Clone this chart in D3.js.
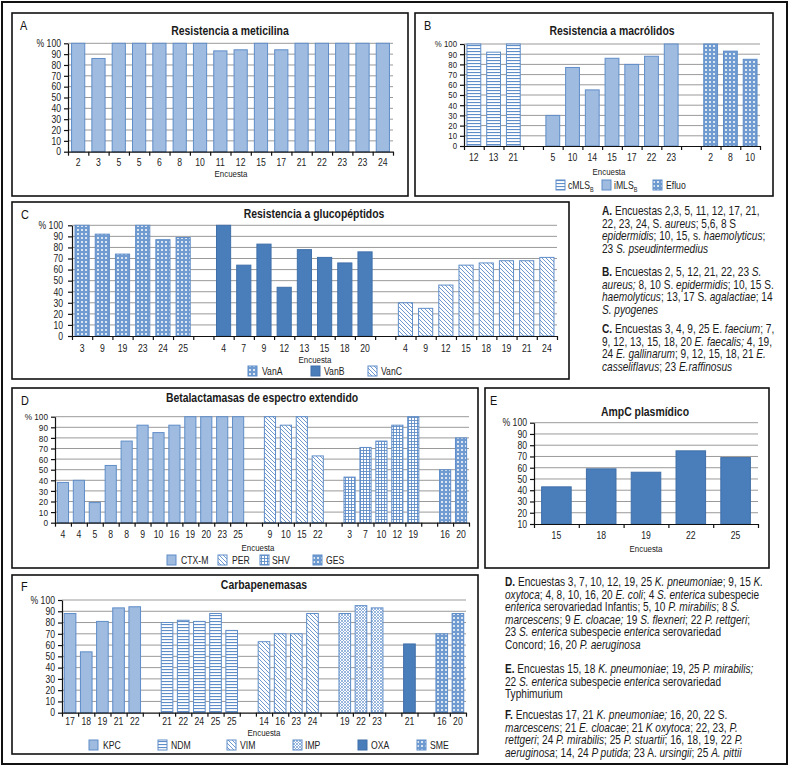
<!DOCTYPE html>
<html lang="es">
<head>
<meta charset="UTF-8">
<title>Resistencias</title>
<script src="https://cdn.jsdelivr.net/npm/d3@7"></script>
<style>
  body { margin: 0; background: #fff; }
  svg { display: block; }
  text { white-space: pre; }
</style>
</head>
<body>
<svg id="chart" width="794" height="768"></svg>
<script>
// ---- datos ----
const aCats = ["2","3","5","5","6","8","10","11","12","15","17","21","22","23","23","24"];
const aVals = [100,86,100,100,100,100,100,93,94,100,94,100,100,100,100,100];

const bCmlsCats = ["12","13","21"];
const bCmlsVals = [100,92,100];
const bImlsCats = ["5","10","14","15","17","22","23"];
const bImlsVals = [30,77,55,86,80,88,100];
const bEfluoCats = ["2","8","10"];
const bEfluoVals = [100,93,85];

const cVanACats = ["3","9","19","23","24","25"];
const cVanAVals = [100,92,74,100,87,89];
const cVanBCats = ["4","7","9","12","13","15","18","20"];
const cVanBVals = [100,64,83,44,78,71,66,76];
const cVanCCats = ["4","9","12","15","18","19","21","24"];
const cVanCVals = [30,25,46,64,66,68,68,71];

const dCtxCats = ["4","4","5","8","8","9","10","16","19","20","23","25"];
const dCtxVals = [38,40,19,54,77,92,85,92,100,100,100,100];
const dPerCats = ["9","10","15","22"];
const dPerVals = [100,92,100,63];
const dShvCats = ["3","7","10","12","19"];
const dShvVals = [43,71,77,92,100];
const dGesCats = ["16","20"];
const dGesVals = [50,80];

const eCats = ["15","18","19","22","25"];
const eVals = [43,59,56,75,69];

const fKpcCats = ["17","18","19","21","22"];
const fKpcVals = [88,54,81,93,94];
const fNdmCats = ["21","22","24","25","25"];
const fNdmVals = [80,82,81,88,73];
const fVimCats = ["14","16","23","24"];
const fVimVals = [63,70,70,88];
const fImpCats = ["19","22","23"];
const fImpVals = [88,95,93];
const fOxaCats = ["21"];
const fOxaVals = [61];
const fSmeCats = ["16","20"];
const fSmeVals = [70,88];

const notesTop = [
  ["<b>A.</b> Encuestas 2,3, 5, 11, 12, 17, 21,",
   "22, 23, 24, S. <i>aureus</i>; 5,6, 8 S",
   "<i>epidermidis</i>; 10, 15, s. <i>haemolyticus</i>;",
   "23 <i>S. pseudintermedius</i>"],
  ["<b>B.</b> Encuestas 2, 5, 12, 21, 22, 23 <i>S.</i>",
   "<i>aureus;</i> 8, 10 S. <i>epidermidis</i>; 10, 15 S.",
   "<i>haemolyticus</i>; 13, 17 S. <i>agalactiae</i>; 14",
   "<i>S. pyogenes</i>"],
  ["<b>C.</b> Encuestas 3, 4, 9, 25 E. <i>faecium</i>; 7,",
   "9, 12, 13, 15, 18, 20 <i>E. faecalis;</i> 4, 19,",
   "24 <i>E. gallinarum</i>; 9, 12, 15, 18, 21 <i>E.</i>",
   "<i>casseliflavus</i>; 23 <i>E.raffinosus</i>"]
];
const notesBottom = [
  ["<b>D.</b> Encuestas 3, 7, 10, 12, 19, 25 <i>K. pneumoniae</i>; 9, 15 <i>K.</i>",
   "<i>oxytoca</i>; 4, 8, 10, 16, 20 <i>E. coli</i>; 4 <i>S. enterica</i> subespecie",
   "<i>enterica</i> serovariedad Infantis; 5, 10 <i>P. mirabilis</i>; 8 <i>S.</i>",
   "<i>marcescens</i>; 9 <i>E. cloacae;</i> 19 <i>S. flexneri</i>; 22 <i>P. rettgeri</i>;",
   "23 <i>S. enterica</i> subespecie <i>enterica</i> serovariedad",
   "Concord; 16, 20 <i>P. aeruginosa</i>"],
  ["<b>E.</b> Encuestas 15, 18 <i>K. pneumoniae</i>; 19, 25 <i>P. mirabilis;</i>",
   "22 <i>S. enterica</i> subespecie <i>enterica</i> serovariedad",
   "Typhimurium"],
  ["<b>F.</b> Encuestas 17, 21 <i>K. pneumoniae;</i> 16, 20, 22 S.",
   "<i>marcescens</i>; 21 <i>E. cloacae</i>; 21 <i>K oxytoca</i>; 22, 23, <i>P.</i>",
   "<i>rettgeri</i>; 24 <i>P. mirabilis</i>; 25 <i>P. stuartii</i>; 16, 18, 19, 22 <i>P.</i>",
   "<i>aeruginosa</i>; 14, 24 <i>P putida</i>; 23 A. <i>ursingii</i>; 25 <i>A. pittii</i>"]
];

// ---- fuente estrecha si existe, si no se comprime en horizontal ----
function hasFont(name) {
  const c = document.createElement("canvas").getContext("2d");
  const s = "Encuestas abcdefghij 0123456789";
  c.font = "40px monospace";
  const w1 = c.measureText(s).width;
  c.font = `40px "${name}", monospace`;
  return c.measureText(s).width !== w1;
}
const narrow = hasFont("Liberation Sans Narrow");
const FONT = narrow ? '"Liberation Sans Narrow", sans-serif' : '"Liberation Sans", Arial, sans-serif';
const SX = narrow ? 1 : 0.84;

const svg = d3.select("#chart").style("font-family", FONT);

// colores
const LIGHT = "#9fbbe0", LIGHT_ST = "#5f8dc8";
const DARK = "#4a7ebb", DARK_ST = "#3f6fa9";
const LINE = "#5f8dc8";
const DOTBG = "#6f9bd1";

// ---- patrones ----
const defs = svg.append("defs");
function pattern(id, w, h, draw) {
  const p = defs.append("pattern").attr("id", id)
    .attr("patternUnits", "userSpaceOnUse").attr("width", w).attr("height", h);
  draw(p);
}
pattern("hstripe", 4, 3, p => {
  p.append("rect").attr("width", 4).attr("height", 3).attr("fill", "#fff");
  p.append("rect").attr("width", 4).attr("height", 1.1).attr("fill", LINE);
});
pattern("diag", 4, 4, p => {
  p.append("rect").attr("width", 4).attr("height", 4).attr("fill", "#fff");
  p.append("path").attr("d", "M-1,-1L5,5M-1,3L1,5M3,-1L5,1")
    .attr("stroke", LINE).attr("stroke-width", 0.9);
});
pattern("grid", 3, 3, p => {
  p.append("rect").attr("width", 3).attr("height", 3).attr("fill", "#fff");
  p.append("rect").attr("width", 3).attr("height", 0.9).attr("fill", LINE);
  p.append("rect").attr("width", 0.9).attr("height", 3).attr("fill", LINE);
});
pattern("dots", 4, 4, p => {
  p.append("rect").attr("width", 4).attr("height", 4).attr("fill", DOTBG);
  p.append("rect").attr("x", 1).attr("y", 1).attr("width", 2).attr("height", 2)
    .attr("fill", "#fff").attr("opacity", 0.75);
});
pattern("cross", 3, 3, p => {
  p.append("rect").attr("width", 3).attr("height", 3).attr("fill", "#fff");
  p.append("path").attr("d", "M0,0L3,3M3,0L0,3")
    .attr("stroke", "#7ea3d6").attr("stroke-width", 0.8);
});

const STYLE = {
  light: { fill: LIGHT, stroke: LIGHT_ST },
  dark: { fill: DARK, stroke: DARK_ST },
  hstripe: { fill: "url(#hstripe)", stroke: LINE },
  diag: { fill: "url(#diag)", stroke: LINE },
  grid: { fill: "url(#grid)", stroke: LINE },
  dots: { fill: "url(#dots)", stroke: LINE },
  cross: { fill: "url(#cross)", stroke: LINE }
};

// ---- marco exterior ----
svg.append("rect").attr("x", 2).attr("y", 2).attr("width", 785).attr("height", 762)
  .attr("fill", "none").attr("stroke", "#111").attr("stroke-width", 2);

function panel(cfg) {
  const g = svg.append("g");
  const [bx0, by0, bx1, by1] = cfg.box;
  const tickFs = cfg.tickFs || 10.3;
  g.append("rect").attr("x", bx0).attr("y", by0)
    .attr("width", bx1 - bx0).attr("height", by1 - by0)
    .attr("fill", "#fff").attr("stroke", "#111").attr("stroke-width", 1.6);

  g.append("text").attr("x", cfg.letter[0]).attr("y", cfg.letter[1])
    .attr("font-size", 13).attr("fill", "#111").text(cfg.name);
  g.append("text").attr("class", "title").attr("x", cfg.titleX).attr("y", cfg.titleY)
    .attr("text-anchor", "middle").attr("font-weight", "bold")
    .attr("font-size", 13.5).attr("fill", "#1a1a1a").text(cfg.title);

  // ranuras: series separadas por un hueco vacío
  const slots = [];
  cfg.series.forEach((s, si) => {
    if (si > 0) slots.push({ key: "gap" + si, label: "" });
    s.cats.forEach((c, i) => slots.push({ key: s.name + i, label: c, value: s.vals[i], style: s.style }));
  });
  const n = slots.length;
  const x = d3.scaleBand().domain(slots.map(d => d.key))
    .range([cfg.x0, cfg.x1]).paddingInner(cfg.pad).paddingOuter(cfg.pad / 2);
  const xi = d3.scaleLinear().domain([0, n]).range([cfg.x0, cfg.x1]);
  const y = d3.scaleLinear().domain(cfg.yDomain).range([cfg.yBot, cfg.yTop]);
  const ticks = d3.range(cfg.yDomain[0], 101, 10);

  // rejilla
  g.append("g").selectAll("line").data(ticks.slice(1)).join("line")
    .attr("x1", cfg.x0).attr("x2", cfg.x1)
    .attr("y1", d => y(d)).attr("y2", d => y(d))
    .attr("stroke", "#9a9a9a").attr("stroke-width", 1);

  // barras
  g.append("g").selectAll("rect").data(slots.filter(d => d.value != null)).join("rect")
    .attr("x", d => x(d.key)).attr("width", x.bandwidth())
    .attr("y", d => y(d.value)).attr("height", d => y(cfg.yDomain[0]) - y(d.value))
    .attr("fill", d => STYLE[d.style].fill).attr("stroke", d => STYLE[d.style].stroke)
    .attr("stroke-width", 1);

  // eje y
  const ay = g.append("g").attr("transform", `translate(${cfg.x0},0)`)
    .call(d3.axisLeft(y).tickValues(ticks).tickSize(4).tickSizeOuter(0)
      .tickPadding(cfg.tickPad || 3).tickFormat(d => d === 100 ? "% 100" : d));
  // eje x: marcas en los bordes de cada ranura
  const ax = g.append("g").attr("transform", `translate(0,${cfg.yBot})`)
    .call(d3.axisBottom(xi).tickValues(d3.range(n + 1)).tickSize(4).tickSizeOuter(0).tickFormat(""));
  [ay, ax].forEach(a => {
    a.selectAll("path,line").attr("stroke", "#111").attr("stroke-width", 1.2);
    a.selectAll("text").attr("font-family", FONT).attr("font-size", tickFs).attr("fill", "#222");
  });

  g.append("g").selectAll("text").data(slots.filter(d => d.label)).join("text")
    .attr("x", d => x(d.key) + x.bandwidth() / 2).attr("y", cfg.xLabelY)
    .attr("text-anchor", "middle").attr("font-size", 10.3).attr("fill", "#222")
    .text(d => d.label);

  g.append("text").attr("x", cfg.enc[0]).attr("y", cfg.enc[1])
    .attr("text-anchor", "middle").attr("font-size", 9.4).attr("fill", "#222")
    .text("Encuesta");

  // leyenda
  (cfg.legend || []).forEach((it, i) => {
    const s = cfg.series[i];
    g.append("rect").attr("x", it[0]).attr("y", cfg.legendY - 9)
      .attr("width", 9).attr("height", 10)
      .attr("fill", STYLE[s.style].fill).attr("stroke", STYLE[s.style].stroke);
    const t = g.append("text").attr("x", it[1]).attr("y", cfg.legendY)
      .attr("font-size", 10.3).attr("fill", "#222").text(s.name);
    if (s.sub) t.append("tspan").attr("dy", 3).attr("font-size", 6.5).text(s.sub);
  });
}

panel({
  name: "A", title: "Resistencia a meticilina", box: [12, 13, 408, 196],
  letter: [20, 30], titleX: 230, titleY: 35,
  x0: 68, x1: 393, yTop: 43.3, yBot: 151.7, yDomain: [0, 100], pad: 0.35,
  xLabelY: 166, enc: [231, 177],
  series: [{ name: "meticilina", cats: aCats, vals: aVals, style: "light" }]
});

panel({
  name: "B", title: "Resistencia a macrólidos", box: [415, 13, 773, 196],
  letter: [424, 30], titleX: 612, titleY: 35,
  x0: 464, x1: 760, yTop: 44, yBot: 146, yDomain: [0, 100], pad: 0.3, tickFs: 9.3,
  xLabelY: 161, enc: [609, 175], legendY: 189,
  series: [
    { name: "cMLS", sub: "B", cats: bCmlsCats, vals: bCmlsVals, style: "hstripe" },
    { name: "iMLS", sub: "B", cats: bImlsCats, vals: bImlsVals, style: "light" },
    { name: "Efluo", cats: bEfluoCats, vals: bEfluoVals, style: "dots" }
  ],
  legend: [[556, 568], [602, 614], [653, 666]]
});

panel({
  name: "C", title: "Resistencia a glucopéptidos", box: [12, 202, 569, 379],
  letter: [21, 219], titleX: 314, titleY: 218,
  x0: 72, x1: 557, yTop: 225.3, yBot: 336, yDomain: [0, 100], pad: 0.3, tickPad: 5,
  xLabelY: 352, enc: [315, 363], legendY: 375,
  series: [
    { name: "VanA", cats: cVanACats, vals: cVanAVals, style: "dots" },
    { name: "VanB", cats: cVanBCats, vals: cVanBVals, style: "dark" },
    { name: "VanC", cats: cVanCCats, vals: cVanCVals, style: "diag" }
  ],
  legend: [[248, 262], [311, 324], [368, 381]]
});

panel({
  name: "D", title: "Betalactamasas de espectro extendido", box: [12, 388, 478, 568],
  letter: [21, 405], titleX: 262, titleY: 402,
  x0: 55, x1: 469, yTop: 416.7, yBot: 522.7, yDomain: [0, 100], pad: 0.3, tickFs: 9.8,
  xLabelY: 538, enc: [258, 551], legendY: 564,
  series: [
    { name: "CTX-M", cats: dCtxCats, vals: dCtxVals, style: "light" },
    { name: "PER", cats: dPerCats, vals: dPerVals, style: "diag" },
    { name: "SHV", cats: dShvCats, vals: dShvVals, style: "grid" },
    { name: "GES", cats: dGesCats, vals: dGesVals, style: "dots" }
  ],
  legend: [[167, 181], [218, 232], [260, 272], [313, 326]]
});

panel({
  name: "E", title: "AmpC plasmídico", box: [485, 388, 769, 568],
  letter: [490, 405], titleX: 645, titleY: 416,
  x0: 534, x1: 758, yTop: 422.7, yBot: 524, yDomain: [10, 100], pad: 0.34,
  xLabelY: 539, enc: [646, 552],
  series: [{ name: "AmpC", cats: eCats, vals: eVals, style: "dark" }]
});

panel({
  name: "F", title: "Carbapenemasas", box: [12, 575, 478, 754],
  letter: [21, 591], titleX: 264, titleY: 589,
  x0: 62, x1: 466, yTop: 600, yBot: 712.7, yDomain: [0, 100], pad: 0.28,
  xLabelY: 725, enc: [264, 736], legendY: 749,
  series: [
    { name: "KPC", cats: fKpcCats, vals: fKpcVals, style: "light" },
    { name: "NDM", cats: fNdmCats, vals: fNdmVals, style: "hstripe" },
    { name: "VIM", cats: fVimCats, vals: fVimVals, style: "diag" },
    { name: "IMP", cats: fImpCats, vals: fImpVals, style: "cross" },
    { name: "OXA", cats: fOxaCats, vals: fOxaVals, style: "dark" },
    { name: "SME", cats: fSmeCats, vals: fSmeVals, style: "dots" }
  ],
  legend: [[89, 103], [158, 171], [227, 240], [293, 305], [358, 371], [417, 430]]
});

// ---- notas ----
function richLine(x, y, str) {
  const t = svg.append("text").attr("class", "note").attr("x", x).attr("y", y)
    .attr("font-size", 12.8).attr("fill", "#1a1a1a");
  str.split(/(<[bi]>.*?<\/[bi]>)/).filter(s => s).forEach(s => {
    const m = s.match(/^<([bi])>(.*)<\/[bi]>$/);
    const ts = t.append("tspan").text(m ? m[2] : s);
    if (m && m[1] === "b") ts.attr("font-weight", "bold");
    if (m && m[1] === "i") ts.attr("font-style", "italic");
  });
}
const LH = 12.6;
[215, 276, 333].forEach((y0, p) =>
  notesTop[p].forEach((l, i) => richLine(602, y0 + i * LH, l)));
[586, 673, 719].forEach((y0, p) =>
  notesBottom[p].forEach((l, i) => richLine(505, y0 + i * LH, l)));

// compresión horizontal del texto (tipografía condensada)
svg.selectAll("text").each(function () {
  const t = d3.select(this);
  let sx = SX;
  if (t.classed("title")) sx = SX * 0.92;
  if (t.classed("note")) sx = SX * 0.94;
  if (sx === 1) return;
  const x = +t.attr("x") || 0, y = +t.attr("y") || 0;
  const tr = t.attr("transform") || "";
  t.attr("x", null).attr("y", null)
    .attr("transform", `${tr} translate(${x},${y}) scale(${sx},1)`);
});
</script>
</body>
</html>
